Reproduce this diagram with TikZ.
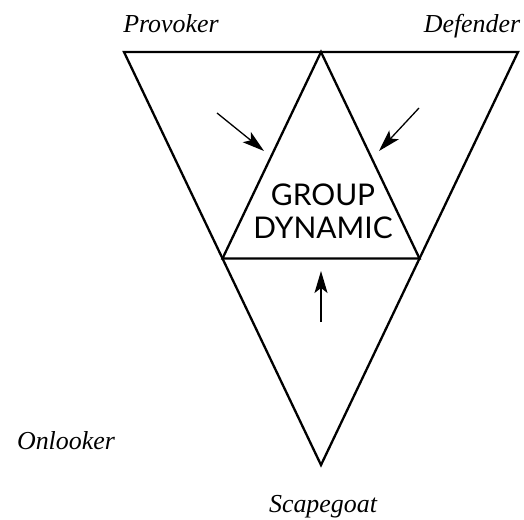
\documentclass[tikz,border=0pt]{standalone}
\usepackage{fontspec}
\newfontfamily\grpfont{Lato}
\newfontfamily\rolefont{Liberation Serif}
\usetikzlibrary{arrows.meta,calc}
\begin{document}
\begin{tikzpicture}[x=1bp,y=-1bp,
  tri/.style={draw=black,line width=2.3bp,line join=miter},
  push/.style={draw=black,line width=1.3bp,-{Stealth[length=22bp,width=13bp,inset=5bp]}},
  role/.style={font=\fontsize{26}{30}\selectfont\rolefont\itshape,inner sep=0pt},
  grp/.style={font=\fontsize{30}{33}\selectfont\grpfont,align=center,inner sep=0pt}]
\useasboundingbox (0,0) rectangle (524,520);
\coordinate (TL) at (124,52);
\coordinate (TR) at (518,52);
\coordinate (B) at (321,465);
\coordinate (A) at (321,52);
\coordinate (ML) at ($(TL)!0.5!(B)$);
\coordinate (MR) at ($(TR)!0.5!(B)$);
\draw[tri] (TL) -- (TR) -- (B) -- cycle;
\draw[tri] (A) -- (ML) -- (MR) -- cycle;
\node[grp] (g) at (323,211) {GROUP\\DYNAMIC};
\coordinate (a1s) at (217,113);
\coordinate (a1e) at (264,151);
\coordinate (a2s) at (419,108);
\coordinate (a2e) at (379,151);
\coordinate (a3s) at (321,322);
\coordinate (a3e) at (321,271);
\draw[push] (a1s) -- (a1e);
\draw[push] (a2s) -- (a2e);
\draw[push] (a3s) -- (a3e);
\node[role,anchor=base] (p) at (171,33) {Provoker};
\node[role,anchor=base] (d) at (472,33) {Defender};
\node[role,anchor=base] (o) at (66,449) {Onlooker};
\node[role,anchor=base] (s) at (323,512) {Scapegoat};
\end{tikzpicture}
\end{document}
